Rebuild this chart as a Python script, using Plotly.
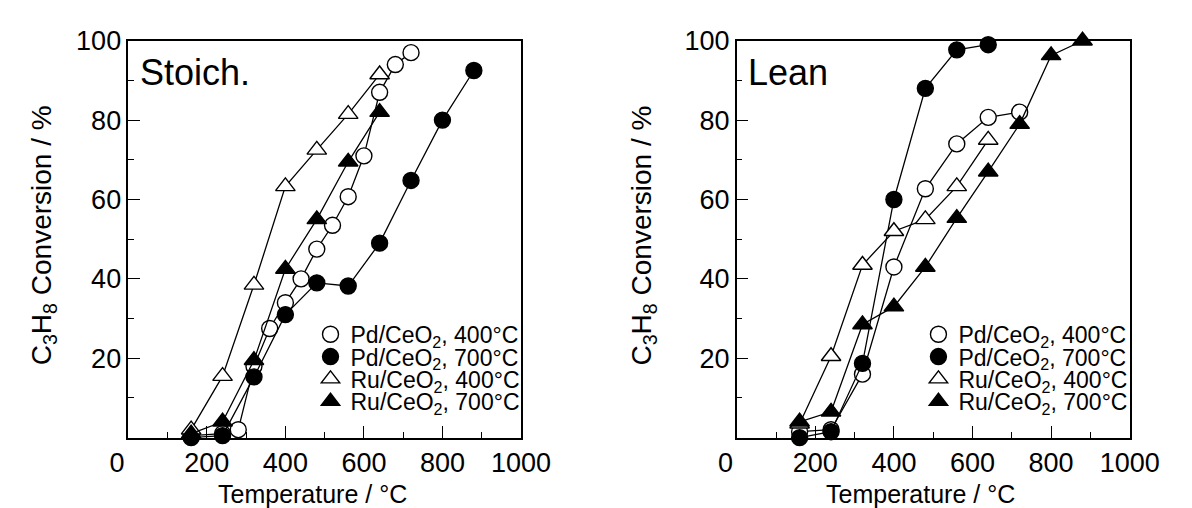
import plotly.graph_objects as go

FONT = "Liberation Sans, Arial, Helvetica, sans-serif"
W, H = 1192, 508

# ---- Stoichiometric feed ----
st_pd400_T = [160, 240, 280, 320, 360, 400, 440, 480, 520, 560, 600, 640, 680, 720]
st_pd400_X = [0.5, 1, 2, 18, 27.5, 34, 40, 47.5, 53.5, 60.7, 71, 87, 94, 97]
st_pd700_T = [160, 240, 320, 400, 480, 560, 640, 720, 800, 880]
st_pd700_X = [0, 0.5, 15.3, 31, 39, 38.2, 49, 64.8, 80, 92.5]
st_ru400_T = [160, 240, 320, 400, 480, 560, 640]
st_ru400_X = [2, 15.5, 38.5, 63.3, 72.5, 81.5, 91.5]
st_ru700_T = [160, 240, 320, 400, 480, 560, 640]
st_ru700_X = [1, 4, 19.5, 42.5, 55, 69.5, 82]

# ---- Lean feed ----
ln_pd400_T = [160, 240, 320, 400, 480, 560, 640, 720]
ln_pd400_X = [1.5, 2, 16, 43, 62.7, 74, 80.7, 82]
ln_pd700_T = [160, 240, 320, 400, 480, 560, 640]
ln_pd700_X = [0, 1.5, 18.7, 60, 88, 97.7, 99]
ln_ru400_T = [160, 240, 320, 400, 480, 560, 640]
ln_ru400_X = [3.5, 20.5, 43.5, 52, 55, 63.3, 75]
ln_ru700_T = [160, 240, 320, 400, 480, 560, 640, 720, 800, 880]
ln_ru700_X = [4, 6.5, 28.5, 33, 43, 55.3, 67, 79, 96.3, 100]

series_names = [
    "Pd/CeO<sub>2</sub>, 400°C",
    "Pd/CeO<sub>2</sub>, 700°C",
    "Ru/CeO<sub>2</sub>, 400°C",
    "Ru/CeO<sub>2</sub>, 700°C",
]
symbols = ["circle", "circle", "triangle-up", "triangle-up"]
fills = ["white", "black", "white", "black"]

x_ticks = [0, 200, 400, 600, 800, 1000]
x_ticktext = ["0\u00a0\u00a0\u00a0", "200", "400", "600", "800", "1000"]
y_ticks = [20, 40, 60, 80, 100]

panels = [
    ("x", "y", [(st_pd400_T, st_pd400_X), (st_pd700_T, st_pd700_X),
                (st_ru400_T, st_ru400_X), (st_ru700_T, st_ru700_X)], 1),
    ("x2", "y2", [(ln_pd400_T, ln_pd400_X), (ln_pd700_T, ln_pd700_X),
                  (ln_ru400_T, ln_ru400_X), (ln_ru700_T, ln_ru700_X)], 5),
]


def px(v):
    return v / W


def py(v):
    return 1 - v / H


fig = go.Figure()
for xa, ya, data, leg0 in panels:
    for i, (T, X) in enumerate(data):
        leg = "legend" if leg0 + i == 1 else f"legend{leg0 + i}"
        size = 16 if symbols[i] == "circle" else 17
        fig.add_trace(go.Scatter(
            x=T, y=X, xaxis=xa, yaxis=ya, mode="lines",
            line=dict(color="black", width=1.3),
            showlegend=False, cliponaxis=False, hoverinfo="skip"))
        fig.add_trace(go.Scatter(
            x=T, y=X, xaxis=xa, yaxis=ya, mode="markers",
            name=series_names[i], legend=leg,
            marker=dict(symbol=symbols[i], size=size, color=fills[i],
                        line=dict(color="black", width=1.4)),
            cliponaxis=False))

axis_common = dict(
    showline=True, linecolor="black", linewidth=1.5, mirror=True,
    showgrid=False, zeroline=False, ticks="inside", ticklen=12,
    tickwidth=1.3, tickcolor="black",
    tickfont=dict(family=FONT, size=27, color="black"),
)

xcommon = dict(axis_common, range=[0, 1000], tickvals=x_ticks, ticktext=x_ticktext,
               minor=dict(tickvals=[100, 300, 500, 700, 900], ticks="inside",
                          ticklen=6, tickwidth=1.3, tickcolor="black"))
ycommon = dict(axis_common, range=[0, 100], tickvals=y_ticks,
               minor=dict(tickvals=[10, 30, 50, 70, 90], ticks="inside",
                          ticklen=6, tickwidth=1.3, tickcolor="black"))

top, bottom = 26.5, 435.5
layout = dict(
    width=W, height=H,
    margin=dict(l=0, r=0, t=0, b=0),
    paper_bgcolor="white", plot_bgcolor="white",
    font=dict(family=FONT, color="black"),
    xaxis=dict(xcommon, domain=[px(114), px(523.5)], anchor="y"),
    yaxis=dict(ycommon, domain=[py(bottom), py(top)], anchor="x"),
    xaxis2=dict(xcommon, domain=[px(748.5), px(1158.3)], anchor="y2"),
    yaxis2=dict(ycommon, domain=[py(bottom), py(top)], anchor="x2"),
)

# one legend per row so the rows sit close together
row_y = [329, 352, 375, 398]
for leg0, left in [(1, 304), (5, 938)]:
    for i in range(4):
        key = "legend" if leg0 + i == 1 else f"legend{leg0 + i}"
        layout[key] = dict(
            x=px(left), y=py(row_y[i]), xanchor="left", yanchor="middle",
            bgcolor="rgba(0,0,0,0)", borderwidth=0,
            font=dict(family=FONT, size=23, color="black"),
            itemwidth=30, tracegroupgap=0)

fig.update_layout(**layout)

annotations = [
    dict(text="Stoich.", x=px(124), y=py(59), xanchor="left", yanchor="middle",
         font=dict(size=36)),
    dict(text="Lean", x=px(758), y=py(59), xanchor="left", yanchor="middle",
         font=dict(size=36)),
    dict(text="Temperature / °C", x=px(306), y=py(494), xanchor="center",
         yanchor="middle", font=dict(size=25)),
    dict(text="Temperature / °C", x=px(940), y=py(494), xanchor="center",
         yanchor="middle", font=dict(size=25)),
    dict(text="C<sub>3</sub>H<sub>8</sub> Conversion / %", x=px(25), y=py(227),
         xanchor="center", yanchor="middle", textangle=-90, font=dict(size=28)),
    dict(text="C<sub>3</sub>H<sub>8</sub> Conversion / %", x=px(651), y=py(227),
         xanchor="center", yanchor="middle", textangle=-90, font=dict(size=28)),
]
for a in annotations:
    a.update(xref="paper", yref="paper", showarrow=False)
    a["font"] = dict(family=FONT, color="black", **a["font"])
fig.update_layout(annotations=annotations)

fig.write_html("out.html")
